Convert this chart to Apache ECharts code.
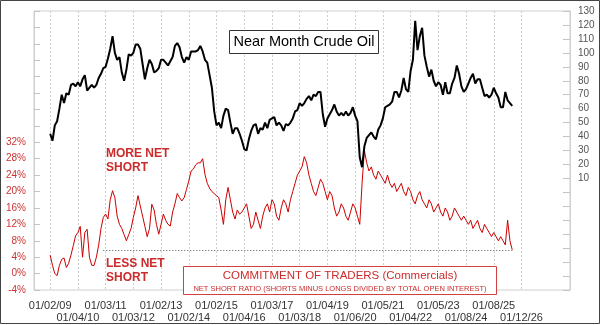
<!DOCTYPE html>
<html>
<head>
<meta charset="utf-8">
<script src="https://cdn.jsdelivr.net/npm/echarts@6/dist/echarts.min.js"></script>
<style>
  html, body { margin: 0; padding: 0; background: #fff; }
  #chart { width: 600px; height: 325px; }
</style>
</head>
<body>
<div id="chart"></div>
<script>
// Year-start labels shown under the x axis (2009 .. 2026)
const tickDates = ['01/02/09', '01/04/10', '01/03/11', '01/03/12', '01/02/13', '01/02/14',
  '01/02/15', '01/04/16', '01/03/17', '01/03/18', '01/04/19', '01/06/20', '01/05/21',
  '01/04/22', '01/05/23', '01/08/24', '01/08/25', '01/12/26'];
const firstTickYear = 2009;

// Monthly series, starting January 2009
const firstDataMonth = '2009-01';

// Near month crude oil, USD per barrel
const oilPrice = [
  42, 37, 48, 51, 60, 70, 64, 71, 70, 77, 78, 76,
  79, 76, 81, 84, 73, 75, 77, 75, 77, 82, 85, 89,
  90, 96, 103, 112, 100, 95, 97, 86, 80, 88, 99, 98,
  100, 106, 106, 103, 92, 81, 89, 95, 92, 86, 87, 89,
  95, 95, 93, 91, 94, 97, 105, 107, 104, 97, 93, 97,
  95, 101, 101, 101, 102, 105, 101, 95, 93, 84, 75, 58,
  48, 50, 46, 55, 60, 59, 50, 42, 46, 46, 42, 37,
  31, 30, 38, 44, 48, 49, 42, 46, 45, 50, 46, 52,
  53, 54, 48, 50, 48, 44, 49, 48, 50, 53, 58, 59,
  64, 62, 64, 67, 69, 66, 70, 69, 72, 72, 56, 47,
  53, 56, 59, 63, 58, 55, 57, 55, 58, 55, 57, 61,
  55, 51, 25, 18, 33, 39, 41, 43, 40, 38, 45, 48,
  53, 61, 62, 63, 65, 72, 72, 68, 73, 82, 74, 72,
  87, 95, 123, 102, 112, 118, 98, 90, 83, 88, 80, 76,
  79, 77, 70, 79, 71, 71, 78, 82, 91, 85, 76, 72,
  74, 78, 82, 85, 78, 81, 81, 75, 69, 70, 68, 70,
  75, 71, 68, 61, 61, 72, 66, 64, 62
];

// Commercials' net short ratio, percent of open interest
const netShortRatio = [
  4.5, 2.0, 0.0, -0.5, 2.0, 3.5, 3.8, 1.5, 2.5, 4.5, 6.8, 9.2,
  10.0, 11.5, 4.0, 10.0, 10.8, 4.0, 2.0, 2.0, 4.0, 7.0, 11.0, 13.7,
  14.5, 13.3, 18.0, 20.2, 18.5, 14.0, 12.0, 11.0, 9.5, 8.0, 9.5, 11.0,
  13.7, 16.0, 19.0, 16.5, 14.0, 11.5, 9.0, 11.0, 16.9, 15.5, 12.0, 9.6,
  12.0, 14.5, 13.0, 12.0, 11.6, 15.0, 17.0, 19.5, 18.5, 17.7, 18.5, 20.5,
  22.6, 25.0, 25.5, 26.5, 27.0, 27.0, 28.0, 24.2, 22.0, 20.8, 20.0, 19.5,
  19.0, 18.5, 15.5, 12.0, 18.0, 21.0, 18.0, 15.0, 13.3, 15.5, 14.5, 15.0,
  16, 17, 14, 11, 12, 15, 13, 11, 14, 16, 17, 15,
  18, 17, 14, 13, 16, 18, 17, 15, 18, 20, 22, 24,
  25, 26, 28.5, 27, 24, 22, 20, 19, 21, 23, 22, 20,
  18, 20, 19, 16, 14, 15, 17, 16, 14, 13, 15, 17,
  16, 14, 12, 22, 30, 27, 25, 26, 24, 23, 25, 24,
  23, 22, 24, 22, 21, 22, 20, 21, 22, 20, 19, 21,
  20, 18, 17, 19, 20, 18, 17, 16, 18, 17, 15, 16,
  17, 15, 14, 16, 15, 13, 14, 16, 15, 14, 13, 14,
  13, 12, 13, 11, 12, 13, 11, 10, 12, 11, 10, 9,
  10, 9, 8, 9, 8, 7, 13, 8, 5.8
];

// Reference level: the latest ratio, drawn back to this month
const levelLineStart = '2010-12';

// Month categories spanning the whole plot width
const axisFirstMonth = [2008, 6];
const axisLastMonth = [2027, 10];
const months = [];
for (let y = axisFirstMonth[0], m = axisFirstMonth[1]; y < axisLastMonth[0] || (y === axisLastMonth[0] && m <= axisLastMonth[1]); ) {
  months.push(y + '-' + String(m).padStart(2, '0'));
  m++; if (m > 12) { m = 1; y++; }
}
const offset = months.indexOf(firstDataMonth);
const toSeries = arr => months.map((c, i) => {
  const k = i - offset;
  return (k >= 0 && k < arr.length) ? arr[k] : null;
});
const lastMonth = months[offset + netShortRatio.length - 1];
const lastRatio = netShortRatio[netShortRatio.length - 1];

// Index into tickDates for a January category, or -1
const tickIndex = val => {
  const k = +val.slice(0, 4) - firstTickYear;
  return (val.slice(5) === '01' && k >= 0 && k < tickDates.length) ? k : -1;
};
const isYearTick = (idx, val) => tickIndex(val) >= 0;
// Labels alternate between two rows
const isUpperRow = (idx, val) => { const k = tickIndex(val); return k >= 0 && k % 2 === 0; };
const isLowerRow = (idx, val) => { const k = tickIndex(val); return k >= 0 && k % 2 === 1; };
const dateLabel = val => { const k = tickIndex(val); return k >= 0 ? tickDates[k] : ''; };

const labelFont = { color: '#333', fontFamily: 'Liberation Sans, Arial, sans-serif', fontSize: 11 };

const RED = '#cc2b2b';
const chart = echarts.init(document.getElementById('chart'), null, { renderer: 'canvas' });
chart.setOption({
  animation: false,
  backgroundColor: '#fff',
  grid: { left: 34, right: 30, top: 11, bottom: 35, show: true, borderColor: '#cfcfcf', borderWidth: 1, outerBoundsMode: 'none' },
  xAxis: [
    {
      type: 'category', data: months, boundaryGap: false, position: 'bottom',
      axisLine: { show: false },
      axisTick: { show: false, interval: isYearTick },
      splitLine: { show: true, interval: isYearTick, lineStyle: { color: '#cfcfcf', type: [2, 2], width: 1 } },
      axisLabel: Object.assign({ interval: isUpperRow, margin: 10, formatter: dateLabel }, labelFont)
    },
    {
      type: 'category', data: months, boundaryGap: false, position: 'bottom', offset: 12,
      axisLine: { show: false },
      axisTick: { show: false },
      splitLine: { show: false },
      axisLabel: Object.assign({ interval: isLowerRow, margin: 10, formatter: dateLabel }, labelFont)
    }
  ],
  yAxis: [
    {
      type: 'value', position: 'left', min: -4, max: 64, interval: 4,
      axisLine: { show: true, lineStyle: { color: '#cfcfcf' } },
      axisTick: { show: true, inside: true, length: 6, lineStyle: { color: '#c4c4c4' } },
      splitLine: { show: false },
      axisLabel: {
        margin: 8, color: '#cc3333', fontSize: 10,
        fontFamily: 'Liberation Sans, Arial, sans-serif',
        formatter: v => v <= 32 ? v + '%' : ''
      }
    },
    {
      type: 'value', position: 'right', min: -70, max: 130, interval: 10,
      axisLine: { show: true, lineStyle: { color: '#cfcfcf' } },
      axisTick: { show: true, inside: true, length: 7, lineStyle: { color: '#c4c4c4' } },
      splitLine: { show: false },
      axisLabel: {
        margin: 8, color: '#555', fontSize: 10,
        fontFamily: 'Liberation Sans, Arial, sans-serif',
        formatter: v => v >= 10 ? String(v) : ''
      }
    }
  ],
  series: [
    {
      name: 'Net short ratio', type: 'line', xAxisIndex: 0, yAxisIndex: 0,
      data: toSeries(netShortRatio),
      symbol: 'none', z: 3,
      lineStyle: { color: '#cc0000', width: 1 },
      markLine: {
        silent: true, symbol: 'none', label: { show: false },
        lineStyle: { color: '#555', type: [1, 2], width: 1 },
        data: [[{ coord: [levelLineStart, lastRatio] }, { coord: [lastMonth, lastRatio] }]]
      }
    },
    {
      name: 'Near Month Crude Oil', type: 'line', xAxisIndex: 0, yAxisIndex: 1,
      data: toSeries(oilPrice),
      symbol: 'none', z: 4,
      lineStyle: { color: '#000', width: 2 }
    }
  ],
  graphic: [
    { type: 'rect', shape: { x: 0.5, y: 0.5, width: 599, height: 323 }, style: { fill: 'none', stroke: '#444', lineWidth: 1 }, z: 100 },
    { type: 'rect', shape: { x: 229.5, y: 30.5, width: 149, height: 23 }, style: { fill: '#fff', stroke: '#333', lineWidth: 1 }, z: 50 },
    { type: 'text', x: 304, y: 42, style: { text: 'Near Month Crude Oil', fill: '#000', font: '14.5px "Liberation Sans", Arial, sans-serif', align: 'center', verticalAlign: 'middle' }, z: 51 },
    { type: 'text', x: 106, y: 146.5, style: { text: 'MORE NET\nSHORT', fill: RED, font: 'bold 12px "Liberation Sans", Arial, sans-serif', lineHeight: 14, align: 'left', verticalAlign: 'top' }, z: 50 },
    { type: 'text', x: 106, y: 257, style: { text: 'LESS NET\nSHORT', fill: RED, font: 'bold 12px "Liberation Sans", Arial, sans-serif', lineHeight: 14, align: 'left', verticalAlign: 'top' }, z: 50 },
    { type: 'rect', shape: { x: 183.5, y: 266.5, width: 313, height: 28 }, style: { fill: '#fff', stroke: '#d04040', lineWidth: 1 }, z: 50 },
    { type: 'text', x: 340, y: 275.5, style: { text: 'COMMITMENT OF TRADERS (Commercials)', fill: RED, font: '11.5px "Liberation Sans", Arial, sans-serif', align: 'center', verticalAlign: 'middle' }, z: 51 },
    { type: 'text', x: 340, y: 289, style: { text: 'NET SHORT RATIO (SHORTS MINUS LONGS DIVIDED BY TOTAL OPEN INTEREST)', fill: RED, font: '7.5px "Liberation Sans", Arial, sans-serif', align: 'center', verticalAlign: 'middle' }, z: 51 }
  ]
});
</script>
</body>
</html>
